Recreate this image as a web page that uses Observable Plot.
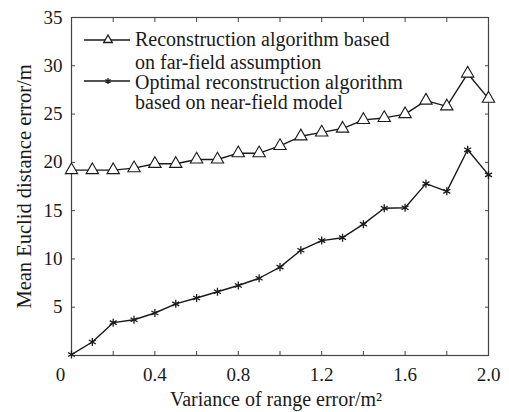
<!DOCTYPE html>
<html>
<head>
<meta charset="utf-8">
<script src="https://cdn.jsdelivr.net/npm/d3@7"></script>
<script src="https://cdn.jsdelivr.net/npm/@observablehq/plot@0.6"></script>
<style>
  html, body { margin: 0; padding: 0; background: #fff; }
  #chart { position: relative; width: 509px; height: 412px; }
  svg { font-family: "Liberation Serif", "Times New Roman", serif; }
</style>
</head>
<body>
<div id="chart"></div>
<script>
// ---- data ----
const variance = [0, 0.1, 0.2, 0.3, 0.4, 0.5, 0.6, 0.7, 0.8, 0.9, 1.0, 1.1, 1.2, 1.3, 1.4, 1.5, 1.6, 1.7, 1.8, 1.9, 2.0];
const farField = [19.2, 19.2, 19.2, 19.4, 19.85, 19.85, 20.3, 20.3, 20.95, 20.95, 21.7, 22.7, 23.1, 23.5, 24.4, 24.6, 25.0, 26.4, 25.8, 29.2, 26.6];
const nearField = [0.1, 1.4, 3.4, 3.7, 4.4, 5.35, 5.95, 6.6, 7.25, 8.0, 9.15, 10.9, 11.9, 12.2, 13.6, 15.25, 15.3, 17.8, 17.0, 21.3, 18.7];
const xTickLabels = [0.4, 0.8, 1.2, 1.6, 2.0];
const xZeroLabel = [0];
const xMinorTicks = [0, 0.2, 0.4, 0.6, 0.8, 1.0, 1.2, 1.4, 1.6, 1.8, 2.0];
const yTicks = [5, 10, 15, 20, 25, 30, 35];
const yAllTicks = [0, 5, 10, 15, 20, 25, 30, 35];
const seriesNames = [
  ["Reconstruction algorithm based", "on far-field assumption"],
  ["Optimal reconstruction algorithm", "based on near-field model"]
];
const xTitle = "Variance of range error/m\u00b2";
const yTitle = "Mean Euclid distance error/m";

const far = variance.map((x, i) => ({x, y: farField[i]}));
const near = variance.map((x, i) => ({x, y: nearField[i]}));

const ink = "#1a1a1a";
const frameColor = "#444";

const plot = Plot.plot({
  width: 509,
  height: 412,
  marginLeft: 71,
  marginRight: 21,
  marginTop: 17,
  marginBottom: 57,
  style: {fontFamily: "Liberation Serif, Times New Roman, serif", fontSize: "18px", color: ink, background: "white"},
  x: {domain: [0, 2.0]},
  y: {domain: [0, 35]},
  marks: [
    Plot.frame({stroke: frameColor, strokeWidth: 1.2}),
    // inward ticks on all sides
    Plot.axisX(xMinorTicks, {anchor: "bottom", text: null, tickSize: 4, dy: -4, stroke: frameColor, label: null}),
    Plot.axisX(xMinorTicks, {anchor: "top", text: null, tickSize: 4, dy: 4, stroke: frameColor, label: null}),
    Plot.axisY(yAllTicks, {anchor: "left", text: null, tickSize: 4, dx: 4, stroke: frameColor, label: null}),
    Plot.axisY(yAllTicks, {anchor: "right", text: null, tickSize: 4, dx: -4, stroke: frameColor, label: null}),
    // labels
    Plot.axisX(xTickLabels, {anchor: "bottom", tickSize: 0, tickPadding: 12, tickFormat: d3.format(".1f"), label: null, fontSize: 19}),
    Plot.axisX(xZeroLabel, {anchor: "bottom", tickSize: 0, tickPadding: 12, dx: -11, tickFormat: d => String(d), label: null, fontSize: 19}),
    Plot.axisY(yTicks, {anchor: "left", tickSize: 0, tickPadding: 9, label: null, fontSize: 19}),
    Plot.text([xTitle], {frameAnchor: "bottom", dy: 44, dx: -4, lineAnchor: "middle", textAnchor: "middle", fontSize: 20, fill: ink}),
    Plot.text([yTitle], {frameAnchor: "left", dx: -47, rotate: -90, lineAnchor: "middle", textAnchor: "middle", fontSize: 20.5, fill: ink}),
    // series
    Plot.line(far, {x: "x", y: "y", stroke: ink, strokeWidth: 1.4}),
    Plot.dot(far, {x: "x", y: "y", symbol: "triangle", r: 4.6, fill: "white", stroke: ink, strokeWidth: 1.1}),
    Plot.line(near, {x: "x", y: "y", stroke: ink, strokeWidth: 1.4}),
    Plot.dot(near, {x: "x", y: "y", symbol: "asterisk", r: 3.8, stroke: ink, strokeWidth: 1.3})
  ]
});

document.getElementById("chart").appendChild(plot);

// ---- legend (inside the axes, top-left) ----
const svg = d3.select(plot);
const lg = svg.append("g").attr("class", "legend").attr("text-anchor", "start");
const entries = [
  {symbol: d3.symbolTriangle, size: Math.PI * 3.2 * 3.2, fill: "white", lineY: 40, baselines: [46, 69]},
  {symbol: d3.symbolAsterisk, size: Math.PI * 2.8 * 2.8, fill: "none", lineY: 81, baselines: [89, 109]}
];
entries.forEach((e, i) => {
  lg.append("line").attr("x1", 84).attr("x2", 130).attr("y1", e.lineY).attr("y2", e.lineY)
    .attr("stroke", ink).attr("stroke-width", 1.3);
  lg.append("path").attr("d", d3.symbol(e.symbol, e.size)())
    .attr("transform", `translate(108,${e.lineY})`)
    .attr("fill", e.fill).attr("stroke", ink).attr("stroke-width", 1.3);
  seriesNames[i].forEach((t, j) => {
    lg.append("text").attr("x", 135).attr("y", e.baselines[j])
      .attr("text-anchor", "start")
      .attr("fill", ink).attr("font-size", 20).text(t);
  });
});
</script>
</body>
</html>
